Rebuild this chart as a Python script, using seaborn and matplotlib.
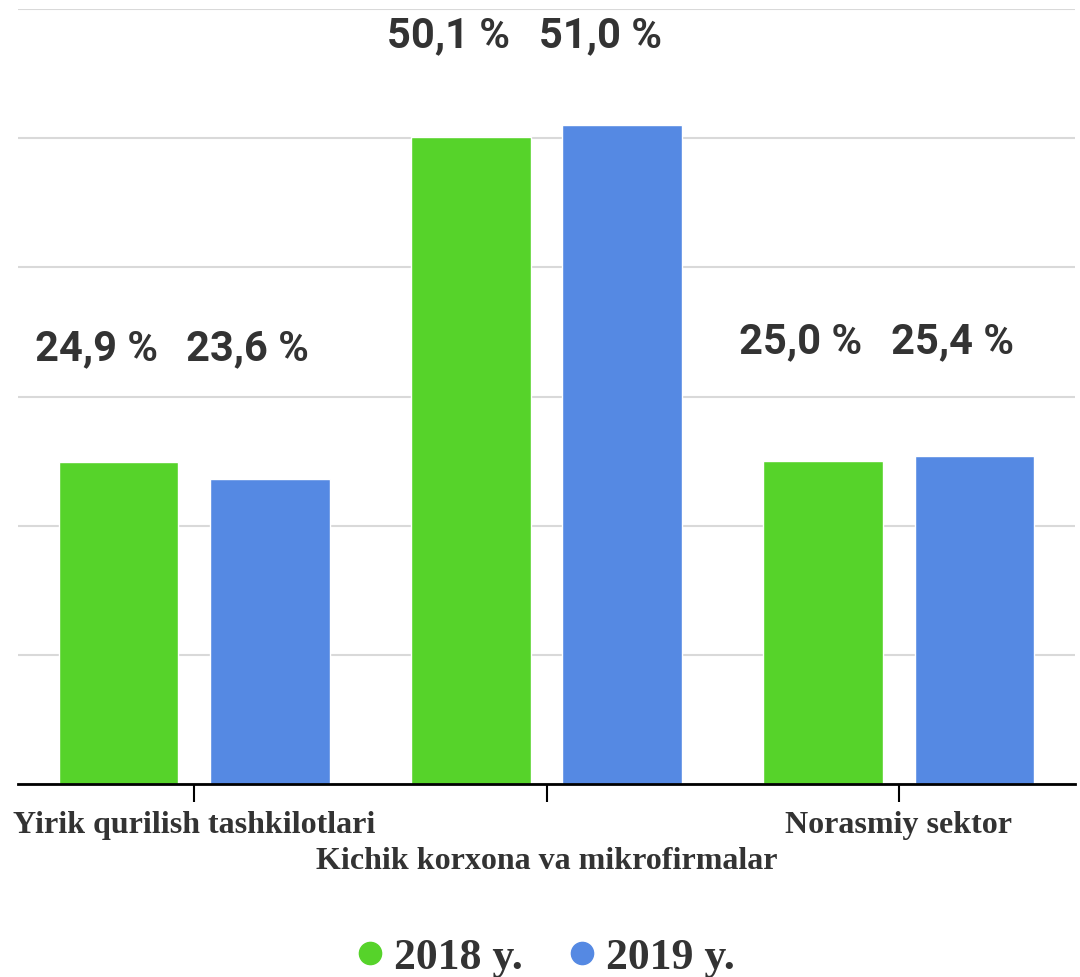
import numpy as np
import pandas as pd
import seaborn as sns
import matplotlib.pyplot as plt
from matplotlib.lines import Line2D

# data
categories = ["Yirik qurilish tashkilotlari", "Kichik korxona va mikrofirmalar", "Norasmiy sektor"]
years = ["2018 y.", "2019 y."]
share_2018 = [24.9, 50.1, 25.0]
share_2019 = [23.6, 51.0, 25.4]
colors = ["#56d32a", "#5589e3"]

df = pd.DataFrame({
    "category": categories * 2,
    "year": [years[0]] * 3 + [years[1]] * 3,
    "share": share_2018 + share_2019,
})

sns.set_style("white")
fig = plt.figure(figsize=(10.8, 9.78), dpi=100)
ax = fig.add_axes([18 / 1080, 1 - 785 / 978, (1075 - 18) / 1080, (785 - 10) / 978])

sns.barplot(data=df, x="category", y="share", hue="year", hue_order=years,
            order=categories, palette=colors, width=0.86, gap=0.21,
            saturation=1, legend=False, ax=ax)

ax.set_xlim(-0.5, 2.5)
ax.set_ylim(0, 60)
ax.set_yticks(np.arange(0, 61, 10))
ax.yaxis.grid(True, color="#d9d9d9", lw=1.5)
ax.set_axisbelow(True)
ax.tick_params(axis="y", left=False, labelleft=False)
ax.set_xlabel("")
ax.set_ylabel("")
for s in ["left", "right", "top"]:
    ax.spines[s].set_visible(False)
ax.spines["bottom"].set_color("black")
ax.spines["bottom"].set_linewidth(2)

# staggered category labels
ax.tick_params(axis="x", bottom=True, length=13, width=1.5, color="black",
               labelsize=23, labelcolor="#333333", pad=6)
for lab in ax.get_xticklabels():
    lab.set_fontfamily("Liberation Serif")
    lab.set_fontweight("bold")
ax.xaxis.get_major_ticks()[1].set_pad(32)

# value labels above each group, kept inside the plot top
label_y = np.minimum(np.maximum(share_2018, share_2019) + 8.9, 58)
for cont, vals in zip(ax.containers, [share_2018, share_2019]):
    for bar, v, ly in zip(cont, vals, label_y):
        xc = bar.get_x() + bar.get_width() / 2
        ax.annotate(f"{v:.1f} %".replace(".", ","), xy=(xc, ly),
                    xytext=(-16, 0), textcoords="offset points",
                    ha="center", va="center", fontsize=30, fontweight="bold",
                    fontfamily="Roboto", color="#333333", annotation_clip=False)

handles = [Line2D([], [], marker="o", ls="", markersize=16, markerfacecolor=c,
                  markeredgecolor=c) for c in colors]
fig.legend(handles, years, loc="center", bbox_to_anchor=(0.5 + 6 / 1080, 1 - 958 / 978),
           ncol=2, frameon=False, handlelength=0.6, handletextpad=0.25,
           columnspacing=1.05,
           prop={"family": "Liberation Serif", "weight": "bold", "size": 31.5},
           labelcolor="#333333")

fig.savefig("out.png", dpi=100)
